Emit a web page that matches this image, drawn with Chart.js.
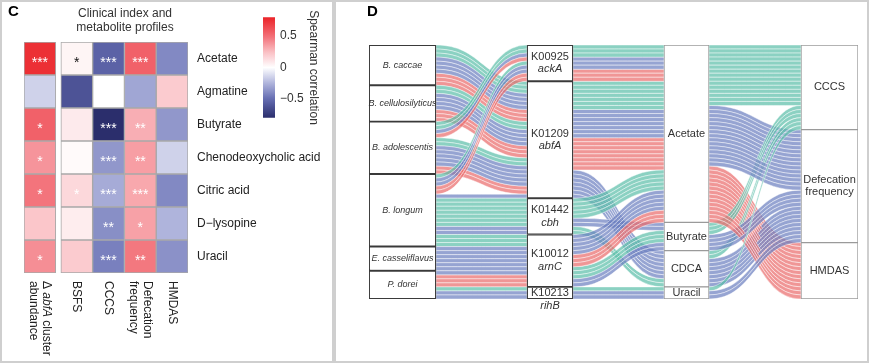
<!DOCTYPE html>
<html>
<head>
<meta charset="utf-8">
<script src="https://cdn.jsdelivr.net/npm/chart.js@4.4.0/dist/chart.umd.min.js"></script>
<style>
body{margin:0;background:#fff;font-family:"Liberation Sans",Arial,sans-serif;}
#wrap{position:relative;width:869px;height:363px;overflow:hidden;}
.frame{position:absolute;top:0;height:363px;box-sizing:border-box;border:2px solid #cfcfcf;}
canvas{position:absolute;top:0;}
.tag{position:absolute;top:3px;font-weight:bold;font-size:15px;line-height:15px;color:#000;}
#title{position:absolute;left:64px;top:6px;width:122px;text-align:center;font-size:12px;line-height:14px;color:#333;}
</style>
</head>
<body>
<div id="wrap">
  <div class="frame" style="left:0;width:334px"></div>
  <div class="frame" style="left:334px;width:535px"></div>
  <canvas id="heat" width="333" height="363" style="left:0"></canvas>
  <canvas id="cbar" width="70" height="125" style="left:255px;top:5px"></canvas>
  <canvas id="sankey" width="534" height="363" style="left:335px"></canvas>
  <div class="tag" style="left:8px">C</div>
  <div class="tag" style="left:367px">D</div>
  <div id="title">Clinical index and<br>metabolite profiles</div>
</div>
<script>
//ヒートマップのデータ (Spearman rho)
var rowNames = ['Acetate', 'Agmatine', 'Butyrate', 'Chenodeoxycholic acid', 'Citric acid', 'D\u2212lysopine', 'Uracil'];
var rhoAbfA  = [0.75, -0.15, 0.55, 0.38, 0.48, 0.22, 0.40];
var rhoBSFS  = [0.04, -0.62, 0.08, 0.02, 0.15, 0.07, 0.20];
var rhoCCCS  = [-0.55, 0.00, -0.80, -0.35, -0.28, -0.38, -0.43];
var rhoDefec = [0.55, -0.30, 0.30, 0.35, 0.32, 0.34, 0.47];
var rhoHMDAS = [-0.40, 0.20, -0.35, -0.15, -0.40, -0.25, -0.37];
var sigAbfA  = ['***', '', '*', '*', '*', '', '*'];
var sigBSFS  = ['*', '', '', '', '*', '', ''];
var sigCCCS  = ['***', '', '***', '***', '***', '**', '***'];
var sigDefec = ['***', '', '**', '**', '***', '*', '**'];
var sigHMDAS = ['', '', '', '', '', '', ''];
var legendTicks = [-0.5, 0, 0.5];
var legendRange = [-0.8, 0.8];

//サンキー図のデータ
var speciesNames = ['B. caccae', 'B. cellulosilyticus', 'B. adolescentis', 'B. longum', 'E. casseliflavus', 'P. dorei'];
var geneIds = ['K00925', 'K01209', 'K01442', 'K10012', 'K10213'];
var geneNames = ['ackA', 'abfA', 'cbh', 'arnC', 'rihB'];
var metaboliteNames = ['Acetate', 'Butyrate', 'CDCA', 'Uracil'];
var clinicalNames = ['CCCS', 'Defecation\nfrequency', 'HMDAS'];
// one entry per flow: index into the lists above, and how many strands
var flowSpecies = [0,0,0,0, 1,1,1,1, 2,2,2,2,2,2,2, 3,3,3,3,3,3,3,3, 4,4, 5,5,5,5];
var flowGene    = [1,1,1,1, 1,1,1,1, 0,0,0,1,1,1,1, 0,0,0,1,2,2,2,3, 3,3, 3,3,4,4];
var flowMetab   = [0,0,0,2, 0,0,0,2, 0,0,0,0,0,0,2, 0,0,0,2,0,2,1,1, 0,1, 0,1,3,3];
var flowClin    = [0,1,2,1, 0,1,2,1, 0,1,2,0,1,2,1, 0,1,2,1,0,0,1,0, 1,1, 2,1,0,1];
var flowCount   = [3,3,3,1, 2,2,3,2, 2,1,1,2,2,2,3, 1,2,2,1,5,2,2,3, 5,1, 3,1,1,2];

var FONT = '"Liberation Sans", Arial, sans-serif';
Chart.defaults.font.family = FONT;

//色
function mix(a, b, t) {
  return 'rgb(' + [0,1,2].map(function(i){ return Math.round(a[i] + (b[i] - a[i]) * t); }).join(',') + ')';
}
var stops = [[-0.8,[43,46,108]],[-0.5,[100,108,178]],[-0.25,[175,180,220]],[0,[255,255,255]],[0.25,[250,190,195]],[0.5,[242,110,118]],[0.8,[235,35,40]]];
function rhoColor(v) {
  v = Math.max(-0.8, Math.min(0.8, v));
  for (var i = 1; i < stops.length; i++) {
    if (v <= stops[i][0]) {
      return mix(stops[i-1][1], stops[i][1], (v - stops[i-1][0]) / (stops[i][0] - stops[i-1][0]));
    }
  }
  return mix(stops[6][1], stops[6][1], 0);
}

document.addEventListener('DOMContentLoaded', function() {

  //ヒートマップ
  var GAP = 0.16;
  var hmCols = [rhoAbfA, rhoBSFS, rhoCCCS, rhoDefec, rhoHMDAS];
  var hmSig = [sigAbfA, sigBSFS, sigCCCS, sigDefec, sigHMDAS];
  var colLabels = [
    [[['\u0394 ', false], ['abfA', true], [' cluster', false]], [['abundance', false]]],
    [[['BSFS', false]]],
    [[['CCCS', false]]],
    [[['Defecation', false]], [['frequency', false]]],
    [[['HMDAS', false]]]
  ];
  function colStart(i) { return i === 0 ? 0 : i + GAP; }

  var heatText = {
    id: 'heatText',
    afterDatasetsDraw: function(chart) {
      var ctx = chart.ctx;
      ctx.save();
      ctx.font = '14px ' + FONT;
      ctx.textAlign = 'center';
      ctx.textBaseline = 'alphabetic';
      hmSig.forEach(function(sig, i) {
        chart.getDatasetMeta(i).data.forEach(function(bar, j) {
          if (!sig[j]) return;
          var p = bar.getCenterPoint();
          ctx.fillStyle = Math.abs(hmCols[i][j]) < 0.1 ? '#111' : '#fff';
          ctx.fillText(sig[j], p.x, p.y + 8.5);
        });
      });
      //列ラベル
      var xs = chart.scales.x;
      var top = chart.chartArea.bottom + 8;
      ctx.fillStyle = '#222';
      ctx.textAlign = 'left';
      ctx.textBaseline = 'middle';
      colLabels.forEach(function(lines, i) {
        var cx = xs.getPixelForValue(colStart(i) + 0.5);
        ctx.save();
        ctx.translate(cx, top);
        ctx.rotate(Math.PI / 2);
        lines.forEach(function(segs, j) {
          var ly = (j - (lines.length - 1) / 2) * 13.5;
          var lx = 0;
          segs.forEach(function(s) {
            ctx.font = (s[1] ? 'italic ' : '') + '12px ' + FONT;
            ctx.fillText(s[0], lx, ly);
            lx += ctx.measureText(s[0]).width;
          });
        });
        ctx.restore();
      });
      ctx.restore();
    }
  };

  new Chart(document.getElementById('heat').getContext('2d'), {
    type: 'bar',
    data: {
      labels: rowNames,
      datasets: hmCols.map(function(vals, i) {
        return {
          data: vals.map(function(){ return [colStart(i), colStart(i) + 1]; }),
          backgroundColor: vals.map(rhoColor),
          borderColor: '#a8a8a8',
          borderWidth: 1,
          borderSkipped: false,
          grouped: false,
          barPercentage: 1,
          categoryPercentage: 1
        };
      })
    },
    options: {
      indexAxis: 'y',
      responsive: false,
      animation: false,
      events: [],
      layout: { padding: { left: 24, top: 42, right: 10, bottom: 90 } },
      plugins: { legend: { display: false }, tooltip: { enabled: false } },
      scales: {
        x: { type: 'linear', display: false, min: 0, max: 5 + GAP },
        y: {
          position: 'right',
          grid: { display: false, drawTicks: false },
          border: { display: false },
          ticks: { color: '#222', font: { size: 12 }, padding: 9 },
          afterFit: function(s) { s.width = 135; }
        }
      }
    },
    plugins: [heatText]
  });

  //カラーバー
  new Chart(document.getElementById('cbar').getContext('2d'), {
    type: 'bar',
    data: {
      labels: [''],
      datasets: [{
        data: [legendRange],
        backgroundColor: function(c) {
          var chart = c.chart;
          if (!chart.chartArea) return '#fff';
          var ys = chart.scales.y;
          var g = chart.ctx.createLinearGradient(0, ys.getPixelForValue(legendRange[0]), 0, ys.getPixelForValue(legendRange[1]));
          for (var t = 0; t <= 20; t++) {
            g.addColorStop(t / 20, rhoColor(legendRange[0] + (legendRange[1] - legendRange[0]) * t / 20));
          }
          return g;
        },
        borderWidth: 0,
        barPercentage: 1,
        categoryPercentage: 1
      }]
    },
    options: {
      responsive: false,
      animation: false,
      events: [],
      layout: { padding: { left: 8, top: 10, bottom: 10, right: 0 } },
      plugins: { legend: { display: false }, tooltip: { enabled: false } },
      scales: {
        x: { display: false },
        y: {
          position: 'right',
          min: legendRange[0],
          max: legendRange[1],
          grid: { display: false, drawTicks: false },
          border: { display: false },
          afterBuildTicks: function(s) { s.ticks = legendTicks.map(function(v){ return { value: v }; }); },
          ticks: {
            color: '#333', font: { size: 12 }, padding: 5,
            callback: function(v) { return v < 0 ? '\u2212' + Math.abs(v) : String(v); }
          },
          title: { display: true, text: 'Spearman correlation', color: '#333', font: { size: 12 }, padding: 4 },
          afterFit: function(s) { s.width = 50; }
        }
      }
    }
  });

  //サンキー図
  var axisStrata = [speciesNames, geneIds, metaboliteNames, clinicalNames];
  var axisPos = [33.5, 181, 317.5, 460.5];
  var boxWidth = [67, 46, 45, 57];
  var strandFill = ['rgba(90,190,168,0.7)', 'rgba(105,126,191,0.7)', 'rgba(233,105,105,0.7)'];

  var strands = [];
  flowCount.forEach(function(n, f) {
    for (var r = 0; r < n; r++) {
      strands.push({ key: [flowSpecies[f], flowGene[f], flowMetab[f], flowClin[f]], c: flowClin[f] });
    }
  });
  var total = strands.length;
  var strata = axisStrata.map(function(names, k) {
    var acc = 0;
    return names.map(function(_, s) {
      var n = strands.filter(function(t){ return t.key[k] === s; }).length;
      var r = [acc, acc + n];
      acc += n;
      return r;
    });
  });

  // strand position on axis k, sorted by the stratum it meets on the other axis
  function stackSide(k, other) {
    var pos = new Array(strands.length);
    axisStrata[k].forEach(function(_, s) {
      var acc = strata[k][s][0];
      strands.map(function(t, i){ return i; })
        .filter(function(i){ return strands[i].key[k] === s; })
        .sort(function(a, b) {
          return (strands[a].key[other] - strands[b].key[other]) || (strands[a].c - strands[b].c) || (a - b);
        })
        .forEach(function(i){ pos[i] = acc++; });
    });
    return pos;
  }

  var ribbons = {
    id: 'ribbons',
    beforeDatasetsDraw: function(chart) {
      var ctx = chart.ctx, x = chart.scales.x, y = chart.scales.y;
      ctx.save();
      for (var k = 0; k < 3; k++) {
        var x0 = x.getPixelForValue(axisPos[k] + boxWidth[k] / 2);
        var x1 = x.getPixelForValue(axisPos[k + 1] - boxWidth[k + 1] / 2);
        var xm = (x0 + x1) / 2;
        var left = stackSide(k, k + 1), right = stackSide(k + 1, k);
        strands.forEach(function(t, i) {
          var a0 = y.getPixelForValue(left[i]), a1 = y.getPixelForValue(left[i] + 1);
          var b0 = y.getPixelForValue(right[i]), b1 = y.getPixelForValue(right[i] + 1);
          ctx.beginPath();
          ctx.moveTo(x0, a0);
          ctx.bezierCurveTo(xm, a0, xm, b0, x1, b0);
          ctx.lineTo(x1, b1);
          ctx.bezierCurveTo(xm, b1, xm, a1, x0, a1);
          ctx.closePath();
          ctx.fillStyle = strandFill[t.c];
          ctx.fill();
          ctx.strokeStyle = 'rgba(255,255,255,0.75)';
          ctx.lineWidth = 0.6;
          ctx.stroke();
        });
      }
      ctx.restore();
    },
    afterDatasetsDraw: function(chart) {
      var ctx = chart.ctx, x = chart.scales.x, y = chart.scales.y;
      ctx.save();
      ctx.fillStyle = '#333';
      ctx.textAlign = 'center';
      ctx.textBaseline = 'middle';
      axisStrata.forEach(function(names, k) {
        var cx = x.getPixelForValue(axisPos[k]);
        names.forEach(function(name, s) {
          var lines;
          if (k === 0) lines = [[name, 'italic 9px ']];
          else if (k === 1) lines = [[name, '11px '], [geneNames[s], 'italic 11px ']];
          else lines = name.split('\n').map(function(l){ return [l, '11px ']; });
          var top = y.getPixelForValue(strata[k][s][0]), bot = y.getPixelForValue(strata[k][s][1]);
          var lh = 12.5;
          var cy = (top + bot) / 2;
          var first = (bot - top) < lines.length * lh ? cy : cy - (lines.length - 1) * lh / 2;
          lines.forEach(function(l, j) {
            ctx.font = l[1] + FONT;
            ctx.fillText(l[0], cx, first + j * lh);
          });
        });
      });
      ctx.restore();
    }
  };

  new Chart(document.getElementById('sankey').getContext('2d'), {
    type: 'bar',
    data: {
      datasets: axisStrata.map(function(names, k) {
        return {
          data: strata[k].map(function(r){ return { x: axisPos[k], y: r }; }),
          backgroundColor: '#fff',
          borderColor: k < 2 ? '#3a3a3a' : '#9a9a9a',
          borderWidth: k < 2 ? 1.3 : 1,
          borderSkipped: false,
          grouped: false,
          barPercentage: 1,
          categoryPercentage: 1,
          maxBarThickness: boxWidth[k]
        };
      })
    },
    options: {
      responsive: false,
      animation: false,
      events: [],
      layout: { padding: { left: 34, top: 45, right: 11, bottom: 64 } },
      plugins: { legend: { display: false }, tooltip: { enabled: false } },
      scales: {
        x: {
          type: 'linear', display: false, min: 0, max: 489, offset: false,
          afterBuildTicks: function(s) { s.ticks = axisPos.map(function(v){ return { value: v }; }); }
        },
        y: { type: 'linear', display: false, min: 0, max: total, reverse: true }
      }
    },
    plugins: [ribbons]
  });
});
</script>
</body>
</html>
